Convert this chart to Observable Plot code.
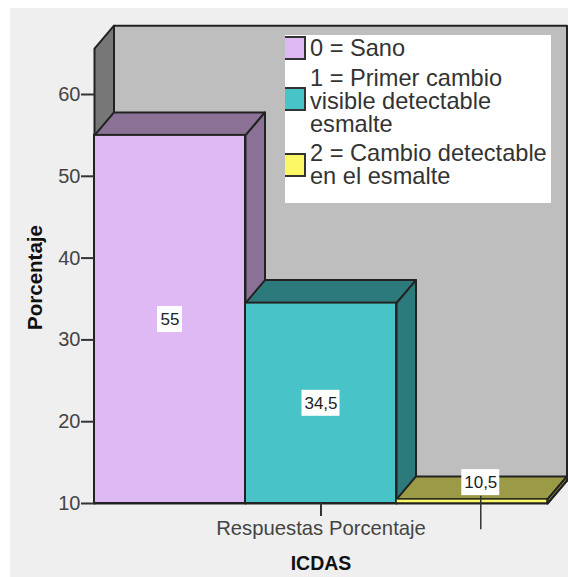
<!DOCTYPE html>
<html>
<head>
<meta charset="utf-8">
<script src="https://cdn.jsdelivr.net/npm/d3@7"></script>
<script src="https://cdn.jsdelivr.net/npm/@observablehq/plot@0.6"></script>
<style>
html,body{margin:0;padding:0;background:#fff;}
#wrap{position:relative;width:568px;height:577px;overflow:hidden;font-family:"Liberation Sans",Arial,sans-serif;}
#chart{position:absolute;left:10px;top:8px;}
#chart svg{display:block;background:#efefef;}
#legend{position:absolute;left:285px;top:35px;width:266px;height:168px;background:#fff;color:#333;font-size:23.6px;line-height:23px;overflow:hidden;}
.item{position:absolute;left:25px;white-space:pre;}
.sw{position:absolute;left:-3px;width:20px;height:20px;border:2px solid #333;box-sizing:content-box;}
</style>
</head>
<body>
<div id="wrap"><div id="chart"></div><div id="legend"></div></div>
<script>
const categories = ["0 = Sano", "1 = Primer cambio\nvisible detectable\nesmalte", "2 = Cambio detectable\nen el esmalte"];
const values = [55, 34.5, 10.5];
const valueLabels = ["55", "34,5", "10,5"];
const frontColors = ["#dfb9f3", "#48c4c8", "#fbf765"];
const topColors = ["#8a7195", "#2d7a7c", "#9b9b47"];
const yTicks = [10, 20, 30, 40, 50, 60];

const base = 10, ceil = 65.6;
const depthX = 19.5 / 151, depthY = 23 / 8.18;
const edge = "#222";
const n = values.length;

const poly = (pts, fill) => Plot.line([...pts, pts[0]], {x: "0", y: "1", fill: () => fill, stroke: edge, strokeWidth: 2, strokeLinejoin: "round"});

const marks = [
  poly([[depthX, base + depthY], [n + depthX, base + depthY], [n + depthX, ceil + depthY], [depthX, ceil + depthY]], "#bebebe"),
  poly([[0, base], [depthX, base + depthY], [depthX, ceil + depthY], [0, ceil]], "#777777"),
  poly([[0, base], [n, base], [n + depthX, base + depthY], [depthX, base + depthY]], "#bebebe")
];
values.forEach((v, i) => {
  marks.push(
    poly([[i, v], [i + depthX, v + depthY], [i + 1 + depthX, v + depthY], [i + 1, v]], topColors[i]),
    poly([[i + 1, v], [i + 1 + depthX, v + depthY], [i + 1 + depthX, base + depthY], [i + 1, base]], topColors[i]),
    Plot.rect([v], {x1: () => i, x2: () => i + 1, y1: () => base, y2: d => d, fill: frontColors[i], stroke: edge, strokeWidth: v < 15 ? 1.5 : 2})
  );
});

const labelRows = values.map((v, i) => {
  const flat = v < 15;
  return {
    label: valueLabels[i],
    x: i + .5 + (flat ? depthX * .45 : 0),
    y: flat ? v + depthY * .73 : (v + base) / 2,
    hw: (valueLabels[i].length * 3.25 + 6) / 151,
    hh: 13 / 8.18
  };
});

marks.push(
  Plot.ruleX(labelRows.slice(2), {x: "x", y1: 6.8, y2: 10.9, stroke: "#333", strokeWidth: 1.5}),
  Plot.rect(labelRows, {x1: d => d.x - d.hw, x2: d => d.x + d.hw, y1: d => d.y - d.hh, y2: d => d.y + d.hh, fill: "#fff"}),
  Plot.text(labelRows, {x: "x", y: "y", text: "label", fill: "#222", fontSize: 17}),
  Plot.axisY({ticks: yTicks, tickSize: 13, tickPadding: 1, fontSize: 20, stroke: "#333", strokeWidth: 2, color: "#444", label: null}),
  Plot.axisX({ticks: [n / 2], tickFormat: () => "Respuestas Porcentaje", tickSize: 13, tickPadding: 4, fontSize: 20.3, stroke: "#333", strokeWidth: 2, color: "#444", label: null}),
  Plot.text(["ICDAS"], {text: d => d, x: () => n / 2, y: () => 2.67, fontSize: 19.5, fontWeight: "bold", fill: "#111"}),
  Plot.text(["Porcentaje"], {text: d => d, frameAnchor: "left", textAnchor: "middle", rotate: -90, dx: -59, dy: 13, fontSize: 20.5, fontWeight: "bold", fill: "#111"})
);

const chart = Plot.plot({
  width: 558, height: 569,
  marginLeft: 84, marginRight: 21, marginTop: 17, marginBottom: 74,
  style: {fontFamily: '"Liberation Sans",Arial,sans-serif', background: "#efefef", overflow: "visible"},
  x: {domain: [0, n], axis: null},
  y: {domain: [base, base + (503 - 25) / 8.18], axis: null},
  marks
});
document.getElementById("chart").append(chart);

const legend = document.getElementById("legend");
const itemTops = [2, 32, 107];
const swatchTops = [1, 52, 118];
categories.forEach((c, i) => {
  const sw = document.createElement("div");
  sw.className = "sw"; sw.style.top = swatchTops[i] + "px"; sw.style.background = frontColors[i];
  const t = document.createElement("div");
  t.className = "item"; t.style.top = itemTops[i] + "px"; t.textContent = c;
  legend.append(sw, t);
});
</script>
</body>
</html>
